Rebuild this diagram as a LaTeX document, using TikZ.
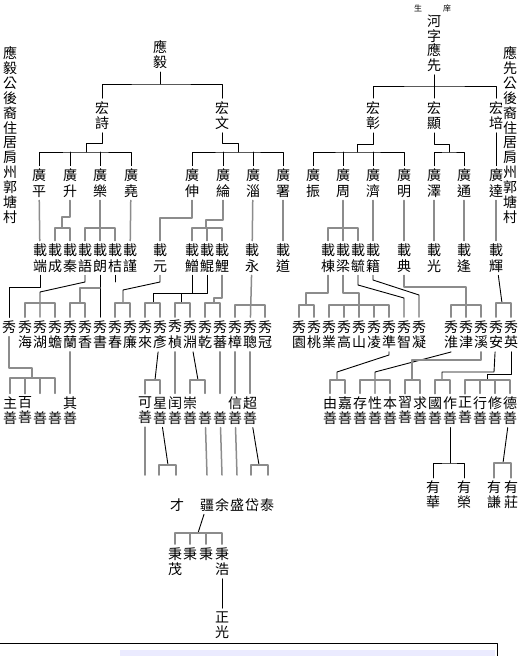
\documentclass[tikz,border=0pt]{standalone}
\usepackage{fontspec}
\usepackage{tikz}
\newfontfamily\cjk{Noto Sans CJK TC}

\begin{document}
\begin{tikzpicture}[line cap=round,line join=round,x=1pt,y=-1pt,
  nm/.style={font=\cjk\fontsize{14}{15.5}\selectfont,align=center,inner xsep=0pt,inner ysep=3pt},
  sn/.style={font=\cjk\fontsize{14}{15}\selectfont,align=center,inner xsep=0pt,inner ysep=3pt},
  tn/.style={font=\cjk\fontsize{8}{9}\selectfont,inner sep=0pt},
  lk/.style={line width=0.9pt,color=black},
  gk/.style={line width=1.5pt,color=black!45}]
\useasboundingbox (0,0) rectangle (521,656);
\fill[white] (0,0) rectangle (521,656);

% side notes and roots
\node[nm,font=\cjk\fontsize{14}{14.9}\selectfont] (lnote) at (10,135) {應\\毅\\公\\後\\裔\\住\\居\\肩\\州\\郭\\塘\\村};
\node[nm,font=\cjk\fontsize{14}{14.9}\selectfont] (rnote) at (510,135) {應\\先\\公\\後\\裔\\住\\居\\肩\\州\\郭\\塘\\村};
\node[tn] (sheng) at (418,8) {生};
\node[tn] (xiang) at (447,8) {庠};
\node[nm,font=\cjk\fontsize{14}{14.5}\selectfont] (yingxian) at (434,43.5) {河\\字\\應\\先};
\node[nm] (yingyi) at (160,54.5) {應\\毅};

% hong
\node[nm] (hongshi) at (102,115.5) {宏\\詩};
\node[nm] (hongwen) at (222,115.5) {宏\\文};
\node[nm] (hongzhang) at (373,115.5) {宏\\彰};
\node[nm] (hongxian) at (434,115.5) {宏\\顯};
\node[nm] (hongpei) at (496,115.5) {宏\\培};

% guang
\node[nm] (gping) at (39,183) {廣\\平};
\node[nm] (gsheng) at (70,183) {廣\\升};
\node[nm] (gle) at (100,183) {廣\\樂};
\node[nm] (gyao) at (131,183) {廣\\堯};
\node[nm] (gshen) at (192,183) {廣\\伸};
\node[nm] (glun) at (223,183) {廣\\綸};
\node[nm] (gzi) at (253,183) {廣\\淄};
\node[nm] (gshu) at (283,183) {廣\\署};
\node[nm] (gzhen) at (313,183) {廣\\振};
\node[nm] (gzhou) at (343,183) {廣\\周};
\node[nm] (gji) at (373,183) {廣\\濟};
\node[nm] (gming) at (404,183) {廣\\明};
\node[nm] (gze) at (434,183) {廣\\澤};
\node[nm] (gtong) at (464,183) {廣\\通};
\node[nm] (gda) at (496,183) {廣\\達};

% zai
\node[nm] (zduan) at (40,258) {載\\端};
\node[nm] (zcheng) at (55,258) {載\\成};
\node[nm] (zqin) at (70,258) {載\\秦};
\node[nm] (zyu) at (85,258) {載\\語};
\node[nm] (zlang) at (100,258) {載\\朗};
\node[nm] (zjie) at (115,258) {載\\桔};
\node[nm] (zjin) at (130,258) {載\\謹};
\node[nm] (zyuan) at (160,258) {載\\元};
\node[nm] (zzeng) at (192,258) {載\\鱛};
\node[nm] (zkun) at (207,258) {載\\鯤};
\node[nm] (zli) at (222,258) {載\\鯉};
\node[nm] (zyong) at (252,258) {載\\永};
\node[nm] (zdao) at (283,258) {載\\道};
\node[nm] (zdong) at (328,258) {載\\棟};
\node[nm] (zliang) at (343,258) {載\\梁};
\node[nm] (zyux) at (358,258) {載\\毓};
\node[nm] (zjix) at (373,258) {載\\籍};
\node[nm] (zdian) at (404,258) {載\\典};
\node[nm] (zguang) at (434,258) {載\\光};
\node[nm] (zfeng) at (464,258) {載\\逢};
\node[nm] (zhui) at (496,258) {載\\輝};

% xiu
\node[nm] (xbare) at (9,327) {秀};
\node[nm] (xhai) at (25,334.5) {秀\\海};
\node[nm] (xhu) at (40,334.5) {秀\\湖};
\node[nm] (xchan) at (55,334.5) {秀\\蟾};
\node[nm] (xlan) at (70,334.5) {秀\\蘭};
\node[nm] (xxiang) at (85,334.5) {秀\\香};
\node[nm] (xshu) at (100,334.5) {秀\\書};
\node[nm] (xchun) at (115,334.5) {秀\\春};
\node[nm] (xlian) at (130,334.5) {秀\\廉};
\node[nm] (xlai) at (145,334.5) {秀\\來};
\node[nm] (xyan) at (160,334.5) {秀\\彥};
\node[nm] (xzhen) at (175,334.5) {秀\\楨};
\node[nm] (xyuan) at (190,334.5) {秀\\淵};
\node[nm] (xqian) at (205,334.5) {秀\\乾};
\node[nm] (xfan) at (220,334.5) {秀\\蕃};
\node[nm] (xzhang) at (235,334.5) {秀\\樟};
\node[nm] (xcong) at (250,334.5) {秀\\聰};
\node[nm] (xguan) at (265,334.5) {秀\\冠};
\node[nm] (xyuan2) at (299,334.5) {秀\\園};
\node[nm] (xtao) at (314,334.5) {秀\\桃};
\node[nm] (xye) at (329,334.5) {秀\\業};
\node[nm] (xgao) at (344,334.5) {秀\\高};
\node[nm] (xshan) at (359,334.5) {秀\\山};
\node[nm] (xling) at (374,334.5) {秀\\凌};
\node[nm] (xzhun) at (389,334.5) {秀\\準};
\node[nm] (xzhi) at (404,334.5) {秀\\智};
\node[nm] (xning) at (419,334.5) {秀\\凝};
\node[nm] (xhuai) at (451,334.5) {秀\\淮};
\node[nm] (xjin) at (466,334.5) {秀\\津};
\node[nm] (xxi) at (481,334.5) {秀\\溪};
\node[nm] (xan) at (496,334.5) {秀\\安};
\node[nm] (xying) at (511,334.5) {秀\\英};

% shan
\node[sn] (szhu) at (10,410.5) {主\\善};
\node[sn] (sbai) at (25,410.5) {百\\善};
\node[sn] (sa) at (40,410.5) {\phantom{善}\\善};
\node[sn] (sb) at (55,410.5) {\phantom{善}\\善};
\node[sn] (sqi) at (70,410.5) {其\\善};
\node[sn] (ske) at (145,410.5) {可\\善};
\node[sn] (sxing) at (160,410.5) {星\\善};
\node[sn] (srun) at (175,410.5) {闰\\善};
\node[sn] (schong) at (190,410.5) {崇\\善};
\node[sn] (sc) at (205,410.5) {\phantom{善}\\善};
\node[sn] (sd) at (220,410.5) {\phantom{善}\\善};
\node[sn] (sxin) at (235,410.5) {信\\善};
\node[sn] (schao) at (250,410.5) {超\\善};
\node[sn] (syou) at (330,410.5) {由\\善};
\node[sn] (sjia) at (345,410.5) {嘉\\善};
\node[sn] (scun) at (360,410.5) {存\\善};
\node[sn] (sxingx) at (375,410.5) {性\\善};
\node[sn] (sben) at (390,410.5) {本\\善};
\node[sn] (sxi) at (405,410.5) {習\\善};
\node[sn] (sqiu) at (420,410.5) {求\\善};
\node[sn] (sguo) at (435,410.5) {國\\善};
\node[sn] (szuo) at (450,410.5) {作\\善};
\node[sn] (szheng) at (465,410.5) {正\\善};
\node[sn] (sxingy) at (480,410.5) {行\\善};
\node[sn] (sxiu) at (495,410.5) {修\\善};
\node[sn] (sde) at (510,410.5) {德\\善};

% next generations
\node[nm] (cai) at (177,505) {才};
\node[nm] (jiang) at (207,505) {疆};
\node[nm] (yu) at (222,505) {余};
\node[nm] (shengx) at (237,505) {盛};
\node[nm] (dai) at (252,505) {岱};
\node[nm] (tai) at (267,505) {泰};
\node[nm] (bmao) at (175,561.5) {秉\\茂};
\node[nm] (bb) at (190,561.5) {秉\\\phantom{秉}};
\node[nm] (bc) at (206,561.5) {秉\\\phantom{秉}};
\node[nm] (bhao) at (222,561.5) {秉\\浩};
\node[nm] (zhguang) at (222,625) {正\\光};
\node[sn] (yhua) at (433,495) {有\\華};
\node[sn] (yrong) at (464,495) {有\\榮};
\node[sn] (yqian) at (494,495) {有\\謙};
\node[sn] (yzhuang) at (511,495) {有\\莊};

% free ends below the shan row
\coordinate (eke) at (145,475);
\coordinate (exa) at (159,475);
\coordinate (exb) at (176,475);
\coordinate (ec) at (207,475);
\coordinate (ed) at (222,475);
\coordinate (exin) at (237,475);
\coordinate (echa) at (251,475);
\coordinate (echb) at (268,475);

% top links
\draw[lk] (yingyi) -- (160,84);
\draw[lk] (hongshi) |- (160,84) -| (hongwen);
\draw[lk] (yingxian) -- (hongxian);
\draw[lk] (hongzhang) |- (434,86) -| (hongpei);
\draw[lk] (hongshi) -- (102,143) -| (86,152);
\draw[lk] (gping) |- (86,152) -| (gyao);
\draw[lk] (gsheng) -- (70,152);
\draw[lk] (gle) -- (100,152);
\draw[lk] (hongwen) -- (222,143) -| (238,152);
\draw[lk] (gshen) |- (238,152) -| (gshu);
\draw[lk] (glun) -- (223,152);
\draw[lk] (gzi) -- (253,152);
\draw[lk] (hongzhang) -- (373,144) -| (357,152);
\draw[lk] (gzhen) |- (357,152) -| (gming);
\draw[lk] (gzhou) -- (343,152);
\draw[lk] (gji) -- (373,152);
\draw[lk] (hongxian) -- (434,144) -| (449,152);
\draw[lk] (gze) |- (449,152) -| (gtong);
\draw[lk] (hongpei) -- (gda);

% guang to zai
\draw[gk] (gping) -- (zduan);
\draw[gk] (gsheng) -- (70,217) -| (62,228);
\draw[gk] (zcheng) |- (62,228) -| (zqin);
\draw[gk] (gle) -- (zlang);
\draw[gk] (zyu) |- (100,228) -| (zjie);
\draw[gk] (gyao) -- (zjin);
\draw[gk] (gshen) -- (192,218) -| (zyuan);
\draw[gk] (glun) -- (223,220) -| (206,228);
\draw[gk] (zzeng) |- (206,228) -| (zli);
\draw[gk] (zkun) -- (207,228);
\draw[gk] (gzi) -- (zyong);
\draw[gk] (gshu) -- (zdao);
\draw[gk] (gzhou) -- (zliang);
\draw[gk] (zdong) |- (343,228) -| (zyux);
\draw[gk] (gji) -- (zjix);
\draw[gk] (gming) -- (zdian);
\draw[gk] (gze) -- (zguang);
\draw[gk] (gtong) -- (zfeng);
\draw[gk] (gda) -- (zhui);

% zai to xiu
\draw[lk] (zduan) -- (40,287) -| (xbare);
\draw[lk] (zyu) -- (85,282) -- (40,292) -- (xhu);
\draw[gk] (xhai) |- (40,303) -| (xchan);
\draw[lk] (zlang) -- (xshu);
\draw[gk] (100,288) -| (80,303);
\draw[gk] (xlan) |- (80,303) -| (xxiang);
\draw[lk] (zjie) -- (115,282);
\draw[lk] (zyuan) -- (160,282) -- (123,290) -- (123,303);
\draw[gk] (xchun) |- (123,303) -| (xlian);
\draw[lk] (zzeng) -- (192,293) -| (153,303);
\draw[gk] (xlai) |- (153,303) -| (xyan);
\draw[lk] (zkun) -- (207,293) -| (181,303);
\draw[gk] (xzhen) |- (181,303) -| (xyuan);
\draw[gk] (zli) -- (222,298) -| (214,303);
\draw[gk] (xqian) |- (214,303) -| (xfan);
\draw[gk] (zyong) -- (xcong);
\draw[gk] (xzhang) |- (250,305) -| (xguan);
\draw[gk] (zdong) -- (328,293) -| (306,305);
\draw[gk] (xyuan2) |- (306,305) -| (xtao);
\draw[gk] (zliang) -- (343,293) -| (359,305);
\draw[gk] (xye) |- (359,305) -| (xzhun);
\draw[gk] (xgao) -- (344,305);
\draw[gk] (xshan) -- (359,305);
\draw[gk] (xling) -- (374,305);
\draw[lk] (zyux) -- (358,285) -- (404,298) -- (xzhi);
\draw[lk] (zjix) -- (373,280) -- (419,295) -- (xning);
\draw[gk] (zdian) |- (466,287) -- (xjin);
\draw[gk] (xhuai) |- (466,305) -| (xxi);
\draw[lk] (zhui) -- (502,303);
\draw[gk] (xan) |- (502,303) -| (xying);

% xiu to shan
\draw[gk] (xbare) -- (9,368) -| (32,378);
\draw[gk] (szhu) |- (32,378) -| (sb);
\draw[gk] (sbai) -- (25,378);
\draw[gk] (sa) -- (40,378);
\draw[gk] (xlan) -- (sqi);
\draw[lk] (xyan) -- (155,380);
\draw[gk] (ske) |- (155,380) -| (sxing);
\draw[gk] (xzhen) -- (srun);
\draw[lk] (xyuan) -- (198,380);
\draw[gk] (schong) |- (198,380) -| (sc);
\draw[gk] (xfan) -- (sd);
\draw[gk] (xzhang) -- (sxin);
\draw[gk] (xcong) -- (schao);
\draw[lk] (xzhun) -- (389,355) -- (337,372) -- (337,380);
\draw[gk] (syou) |- (337,380) -| (sjia);
\draw[lk] (xhuai) -- (451,352) -- (375,372) -- (sxingx);
\draw[gk] (scun) |- (375,380) -| (sben);
\draw[gk] (xxi) -- (481,360) -| (412,380);
\draw[gk] (sxi) |- (412,380) -| (sqiu);
\draw[lk] (xan) -- (494,372) -| (442,380);
\draw[gk] (sguo) |- (442,380) -| (szuo);
\draw[lk] (xying) -- (511,374) -| (487,380);
\draw[gk] (szheng) |- (487,380) -| (sde);
\draw[gk] (sxingy) -- (480,380);
\draw[gk] (sxiu) -- (495,380);

% lower generations
\draw[gk] (ske) -- (eke);
\draw[lk] (sxing) -- (168,465);
\draw[gk] (exa) |- (168,465) -| (exb);
\draw[gk] (sc) -- (ec);
\draw[gk] (sd) -- (ed);
\draw[gk] (sxin) -- (exin);
\draw[lk] (schao) -- (259,465);
\draw[gk] (echa) |- (259,465) -| (echb);
\draw[lk] (jiang) -- (198,533);
\draw[gk] (bmao) |- (198,533) -| (bhao);
\draw[gk] (bb) -- (190,533);
\draw[gk] (bc) -- (206,533);
\draw[lk] (bhao) -- (zhguang);
\draw[lk] (szuo) -- (450,463);
\draw[lk] (yhua) |- (450,463) -| (yrong);
\draw[lk] (sde) -- (503,463);
\draw[gk] (yqian) |- (503,463) -| (yzhuang);

% bottom strip
\draw[lk] (0,643) -- (497,643) -- (497,656);
\fill[blue!8] (120,650) rectangle (495,656);
\end{tikzpicture}
\end{document}
